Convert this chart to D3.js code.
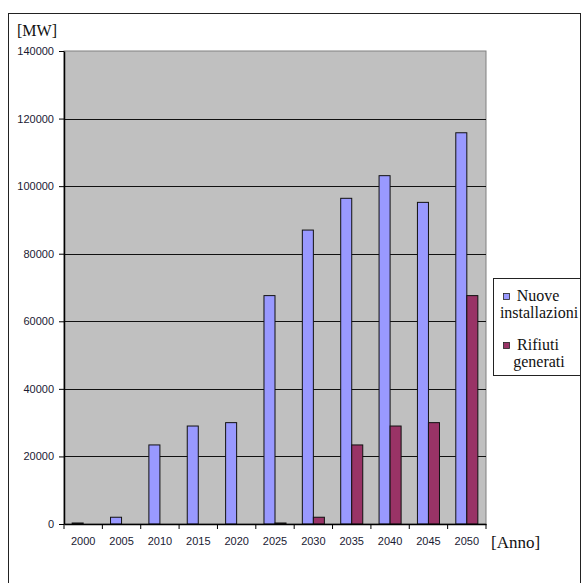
<!DOCTYPE html>
<html>
<head>
<meta charset="utf-8">
<script src="https://cdn.jsdelivr.net/npm/d3@7"></script>
<style>
  html, body { margin: 0; padding: 0; background: #fff; }
  svg { display: block; }
</style>
</head>
<body>
<svg id="chart" width="581" height="583"></svg>
<script>
// Years on the category axis
const anni = ["2000", "2005", "2010", "2015", "2020", "2025", "2030", "2035", "2040", "2045", "2050"];
// New installed capacity [MW]
const nuoveInstallazioni = [300, 2000, 23400, 29000, 30000, 67600, 87000, 96400, 103100, 95200, 115800];
// Waste generated [MW]
const rifiutiGenerati = [0, 0, 0, 0, 0, 300, 2000, 23400, 29000, 30000, 67600];
const yTicks = [0, 20000, 40000, 60000, 80000, 100000, 120000, 140000];
const serie = ["Nuove installazioni", "Rifiuti generati"];
const colori = ["#9999FF", "#993366"];

const svg = d3.select("#chart");
const plot = { left: 64, right: 486, top: 51, bottom: 524 };

// Outer frame
svg.append("rect")
  .attr("x", 8.5).attr("y", 13.5)
  .attr("width", 572).attr("height", 600)
  .attr("fill", "none").attr("stroke", "#222").attr("stroke-width", 1);

const x0 = d3.scaleBand().domain(anni).range([plot.left, plot.right]).paddingInner(0).paddingOuter(0);
const x1 = d3.scaleBand().domain(serie).range([0, x0.bandwidth()]).paddingInner(0).paddingOuter(0.74);
const y = d3.scaleLinear().domain([0, 140000]).range([plot.bottom, plot.top]);

// Plot area background
svg.append("rect")
  .attr("x", plot.left).attr("y", plot.top)
  .attr("width", plot.right - plot.left).attr("height", plot.bottom - plot.top)
  .attr("fill", "#C0C0C0").attr("stroke", "#808080").attr("stroke-width", 1);

// Gridlines
svg.append("g").selectAll("line")
  .data(yTicks.filter(d => d > 0 && d < 140000))
  .join("line")
  .attr("x1", plot.left).attr("x2", plot.right)
  .attr("y1", d => Math.round(y(d)) + 0.5).attr("y2", d => Math.round(y(d)) + 0.5)
  .attr("stroke", "#111").attr("stroke-width", 1);

// Bars
const gruppi = svg.append("g").selectAll("g")
  .data(anni.map((a, i) => ({ anno: a, valori: [nuoveInstallazioni[i], rifiutiGenerati[i]] })))
  .join("g")
  .attr("transform", d => `translate(${x0(d.anno)},0)`);

gruppi.selectAll("rect")
  .data(d => d.valori.map((v, j) => ({ serie: serie[j], v, j })).filter(e => e.v > 0))
  .join("rect")
  .attr("x", e => x1(e.serie))
  .attr("y", e => y(e.v))
  .attr("width", x1.bandwidth())
  .attr("height", e => plot.bottom - y(e.v))
  .attr("fill", e => colori[e.j])
  .attr("stroke", "#111").attr("stroke-width", 1);

// Y axis
const yAxis = svg.append("g")
  .attr("transform", `translate(${plot.left},0)`)
  .call(d3.axisLeft(y).tickValues(yTicks).tickSize(5).tickSizeOuter(0).tickFormat(d3.format("d")));
yAxis.select(".domain").attr("stroke", "#000").attr("stroke-width", 1.5);
yAxis.selectAll(".tick line").attr("stroke", "#000");
yAxis.selectAll(".tick text")
  .attr("font-family", "Liberation Sans, Arial, sans-serif")
  .attr("font-size", 11).attr("fill", "#1a1a33").attr("x", -10);

// X axis
const xAxis = svg.append("g")
  .attr("transform", `translate(0,${plot.bottom})`)
  .call(d3.axisBottom(x0).tickSize(0).tickPadding(13));
xAxis.select(".domain").attr("stroke", "#000").attr("stroke-width", 1.5);
xAxis.selectAll(".tick text")
  .attr("font-family", "Liberation Sans, Arial, sans-serif")
  .attr("font-size", 11).attr("fill", "#1a1a33");
// Category boundary ticks
xAxis.append("g").selectAll("line")
  .data(anni.map(a => x0(a)).concat([plot.right]))
  .join("line")
  .attr("x1", d => d).attr("x2", d => d)
  .attr("y1", 0).attr("y2", 5)
  .attr("stroke", "#000");

// Axis titles
svg.append("text")
  .attr("x", 17).attr("y", 36)
  .attr("font-family", "Liberation Serif, Times New Roman, serif")
  .attr("font-size", 16).attr("fill", "#111")
  .text("[MW]");
svg.append("text")
  .attr("x", 491).attr("y", 548)
  .attr("font-family", "Liberation Serif, Times New Roman, serif")
  .attr("font-size", 17).attr("fill", "#111")
  .text("[Anno]");

// Legend
const leg = svg.append("g");
leg.append("rect")
  .attr("x", 493.5).attr("y", 278.5).attr("width", 87).attr("height", 97)
  .attr("fill", "#fff").attr("stroke", "#222").attr("stroke-width", 1);
const righe = [["Nuove", "installazioni"], ["Rifiuti", "generati"]];
righe.forEach((r, i) => {
  const y0 = 301 + i * 49;
  leg.append("rect")
    .attr("x", 503.5).attr("y", y0 - 7.5).attr("width", 6).attr("height", 6)
    .attr("fill", colori[i]).attr("stroke", "#222").attr("stroke-width", 0.8);
  leg.append("text")
    .attr("x", 538).attr("y", y0)
    .attr("text-anchor", "middle")
    .attr("font-family", "Liberation Serif, Times New Roman, serif")
    .attr("font-size", 16).attr("fill", "#111")
    .text(r[0]);
  leg.append("text")
    .attr("x", 539).attr("y", y0 + 17)
    .attr("text-anchor", "middle")
    .attr("font-family", "Liberation Serif, Times New Roman, serif")
    .attr("font-size", 16).attr("fill", "#111")
    .text(r[1]);
});
</script>
</body>
</html>
